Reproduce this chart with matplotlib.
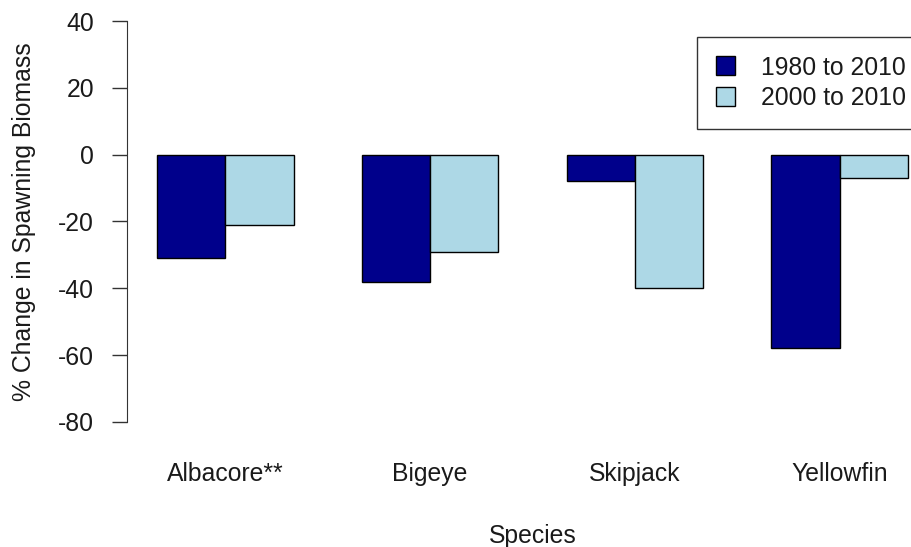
import matplotlib
matplotlib.use("Agg")
import matplotlib.pyplot as plt
import numpy as np

species = ["Albacore**", "Bigeye", "Skipjack", "Yellowfin"]
series_names = ["1980 to 2010", "2000 to 2010"]
change_1980 = [-31, -38, -8, -58]
change_2000 = [-21, -29, -40, -7]
colors = ["#00008B", "#ADD8E6"]
yticks = [-80, -60, -40, -20, 0, 20, 40]

plt.rcParams['font.family'] = ['Liberation Sans', 'DejaVu Sans']
FS = 17.8
TXT = '#1a1a1a'

W, H = 912, 547
fig = plt.figure(figsize=(W/100, H/100), dpi=100)
# plot region in pixels: x 127..938, y 5..438
x0, x1 = 127, 938
y0, y1 = 5, 438
ax = fig.add_axes([x0/W, 1 - y1/H, (x1-x0)/W, (y1-y0)/H])
ax.set_xlim(0.56, 12.44)
ax.set_ylim(-84.8, 44.8)

group_left = np.arange(len(species)) * 3 + 1
ax.bar(group_left, change_1980, width=1, align='edge', color=colors[0],
       edgecolor='black', linewidth=1, label=series_names[0])
ax.bar(group_left + 1, change_2000, width=1, align='edge', color=colors[1],
       edgecolor='black', linewidth=1, label=series_names[1])

for s in ['top', 'right', 'bottom']:
    ax.spines[s].set_visible(False)
ax.spines['left'].set_bounds(-80, 40)
ax.spines['left'].set_color('#333333')
ax.set_yticks(yticks)
ax.set_yticklabels([str(v) for v in yticks], fontsize=FS, color=TXT)
ax.tick_params(axis='y', length=10.8, width=1, color='#333333', pad=13)
ax.set_xticks(group_left + 1)
ax.set_xticklabels(species, fontsize=FS, color=TXT)
ax.tick_params(axis='x', length=0, pad=17)
ax.set_xlabel("Species", fontsize=FS, labelpad=28, color=TXT)
ax.set_ylabel("% Change in Spawning Biomass", fontsize=FS, labelpad=16, color=TXT)

leg = ax.legend(loc='upper left', bbox_to_anchor=((697 - x0)/(x1 - x0), 1 - (37 - y0)/(y1 - y0)),
                fontsize=FS, frameon=True, fancybox=False, borderpad=0.75,
                handlelength=0.8, handleheight=0.8, handletextpad=1.05, labelspacing=0.27,
                borderaxespad=0)
leg.get_frame().set_edgecolor('black')
leg.get_frame().set_linewidth(1)
for t in leg.get_texts():
    t.set_color(TXT)

fig.savefig("out.png", dpi=100)
